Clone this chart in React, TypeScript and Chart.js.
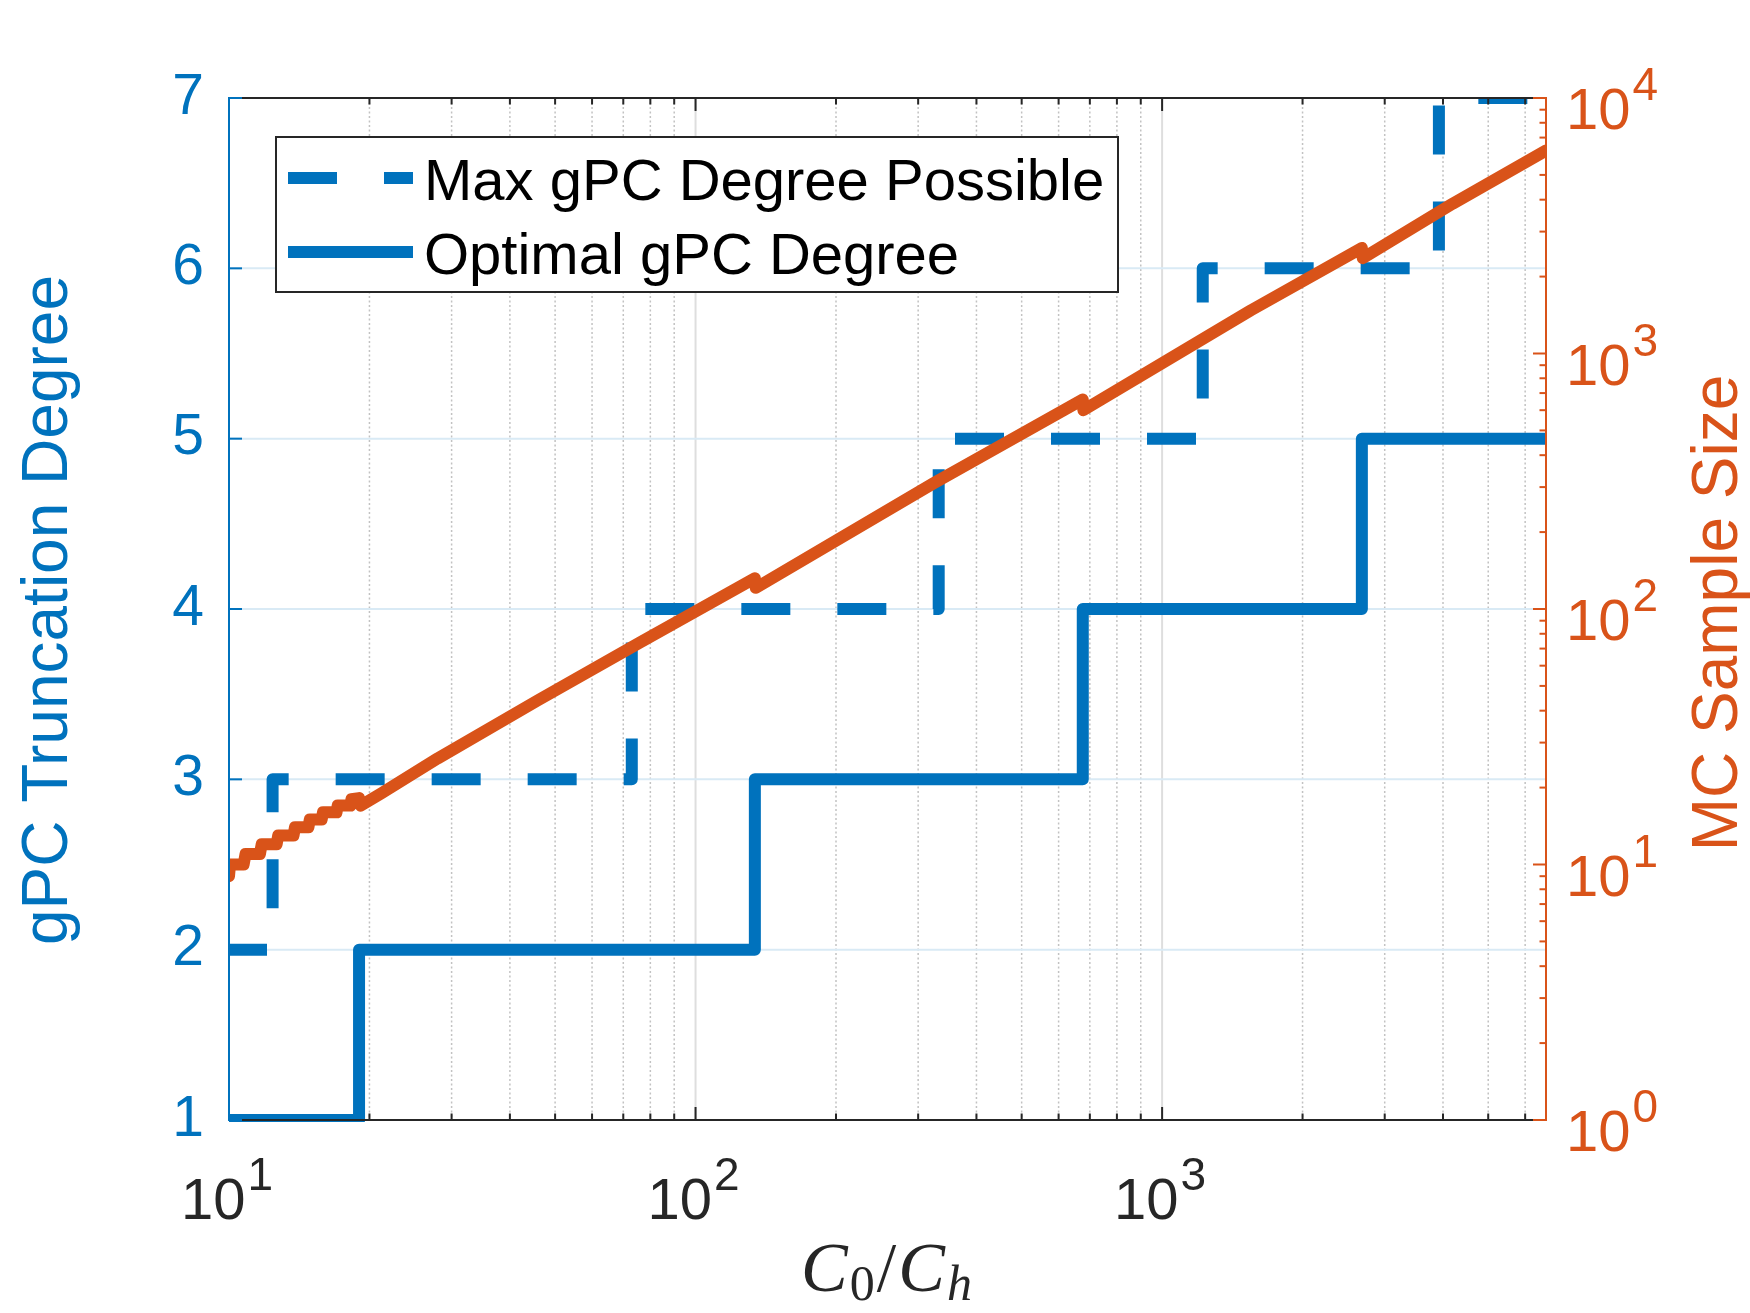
import { useEffect, useRef } from "react"
import { Chart, registerables, type Plugin } from "chart.js"

Chart.register(...registerables)

const BLUE = "#0072BD"
const ORANGE = "#D95319"
const INK = "#262626"
const SANS = '"Liberation Sans", Arial, Helvetica, sans-serif'
const SERIF = '"Liberation Serif", "Times New Roman", serif'

// x axis is C0/Ch (log), left axis gPC degree, right axis MC sample size (log)
const ratioMin = 10
const ratioMax = 6650

// C0/Ch where each stair starts
const maxDegreeRatio = [10, 12.4, 73, 332, 1222, 3920, 6650]
const maxDegree = [2, 3, 4, 5, 6, 7, 7]
const optDegreeRatio = [10, 19, 134, 676, 2680, 6650]
const optDegree = [1, 2, 3, 4, 5, 5]

// MC sample size
const mcRatio = [
  10, 10.05, 10.75, 10.85, 11.65, 11.75, 12.65, 12.75, 13.75, 13.85, 14.8, 14.9,
  15.8, 15.9, 17.0, 17.1, 18.2, 18.3, 19.0, 19.15, 21.2, 28, 46, 76, 134, 134.6,
  323, 676, 678, 1549, 2680, 2692, 4195, 6650,
]
const mcSize = [
  9, 10, 10, 11, 11, 12, 12, 13, 13, 14, 14, 15,
  15, 16, 16, 17, 17, 18, 18.2, 17, 19, 26, 44, 74, 132, 121,
  310, 660, 600, 1475, 2590, 2360, 3858, 6230,
]

const degreeMin = 1
const degreeMax = 7
const sampleMin = 1
const sampleMax = 10000

const ratioDecades = [10, 100, 1000]
const ratioExponents = ["1", "2", "3"]
const sampleDecades = [1, 10, 100, 1000, 10000]
const sampleExponents = ["0", "1", "2", "3", "4"]
const minorSteps = [2, 3, 4, 5, 6, 7, 8, 9]

const line = (ctx: CanvasRenderingContext2D, x1: number, y1: number, x2: number, y2: number) => {
  ctx.beginPath()
  ctx.moveTo(x1, y1)
  ctx.lineTo(x2, y2)
  ctx.stroke()
}

// "10" with a raised exponent, like MATLAB's TeX tick labels
const powerLabel = (
  ctx: CanvasRenderingContext2D,
  exp: string,
  x: number,
  y: number,
  centered: boolean,
  color: string
) => {
  ctx.fillStyle = color
  ctx.textAlign = "left"
  ctx.textBaseline = "alphabetic"
  ctx.font = `58px ${SANS}`
  const w1 = ctx.measureText("10").width
  ctx.font = `46px ${SANS}`
  const w2 = ctx.measureText(exp).width
  const start = centered ? x - (w1 + 2 + w2) / 2 : x
  ctx.font = `58px ${SANS}`
  ctx.fillText("10", start, y)
  ctx.font = `46px ${SANS}`
  ctx.fillText(exp, start + w1 + 2, y - 29)
}

const matlabFrame: Plugin<"line"> = {
  id: "matlabFrame",
  beforeDatasetsDraw(chart) {
    const { ctx, chartArea: a } = chart
    const x = chart.scales.x
    const y = chart.scales.y
    ctx.save()
    // minor grid (dotted)
    ctx.lineWidth = 1.5
    ctx.strokeStyle = "#c2c2c2"
    ctx.setLineDash([2, 2.5])
    for (const d of ratioDecades) {
      for (const m of minorSteps) {
        const v = d * m
        if (v >= x.max) continue
        const px = x.getPixelForValue(v)
        line(ctx, px, a.top, px, a.bottom)
      }
    }
    ctx.setLineDash([])
    ctx.lineWidth = 2
    ctx.strokeStyle = "#dedede"
    for (const d of ratioDecades) {
      if (d <= x.min || d >= x.max) continue
      const px = x.getPixelForValue(d)
      line(ctx, px, a.top, px, a.bottom)
    }
    ctx.strokeStyle = "#d9eaf5"
    for (const t of y.ticks) {
      if (t.value <= y.min || t.value >= y.max) continue
      const py = y.getPixelForValue(t.value)
      line(ctx, a.left, py, a.right, py)
    }
    ctx.restore()
  },
  afterDatasetsDraw(chart) {
    const { ctx, chartArea: a } = chart
    const x = chart.scales.x
    const y = chart.scales.y
    const y2 = chart.scales.y2
    const major = 13
    const minor = 6.5
    ctx.save()
    ctx.lineWidth = 2

    // bottom and top axes with inward ticks
    ctx.strokeStyle = INK
    line(ctx, a.left, a.bottom, a.right, a.bottom)
    line(ctx, a.left, a.top, a.right, a.top)
    for (const d of ratioDecades) {
      const px = x.getPixelForValue(d)
      line(ctx, px, a.bottom, px, a.bottom - major)
      line(ctx, px, a.top, px, a.top + major)
      for (const m of minorSteps) {
        const v = d * m
        if (v >= x.max) continue
        const pm = x.getPixelForValue(v)
        line(ctx, pm, a.bottom, pm, a.bottom - minor)
        line(ctx, pm, a.top, pm, a.top + minor)
      }
    }

    // left axis
    ctx.strokeStyle = BLUE
    line(ctx, a.left, a.top - 1, a.left, a.bottom + 1)
    for (const t of y.ticks) {
      const py = y.getPixelForValue(t.value)
      line(ctx, a.left, py, a.left + major, py)
    }

    // right axis
    ctx.strokeStyle = ORANGE
    line(ctx, a.right, a.top - 1, a.right, a.bottom + 1)
    sampleDecades.forEach((d) => {
      const py = y2.getPixelForValue(d)
      line(ctx, a.right, py, a.right - major, py)
      if (d >= sampleMax) return
      for (const m of minorSteps) {
        const pm = y2.getPixelForValue(d * m)
        line(ctx, a.right, pm, a.right - minor, pm)
      }
    })

    // tick labels with exponents
    ratioDecades.forEach((d, i) => {
      powerLabel(ctx, ratioExponents[i], x.getPixelForValue(d) - 2, a.bottom + 99, true, INK)
    })
    sampleDecades.forEach((d, i) => {
      powerLabel(ctx, sampleExponents[i], a.right + 20, y2.getPixelForValue(d) + 31, false, ORANGE)
    })

    // axis titles
    const midY = (a.top + a.bottom) / 2
    ctx.textAlign = "center"
    ctx.textBaseline = "alphabetic"
    ctx.font = `64px ${SANS}`
    ctx.save()
    ctx.translate(67, midY + 1)
    ctx.rotate(-Math.PI / 2)
    ctx.fillStyle = BLUE
    ctx.fillText("gPC Truncation Degree", 0, 0)
    ctx.restore()
    ctx.save()
    ctx.translate(1737, midY + 4)
    ctx.rotate(-Math.PI / 2)
    ctx.fillStyle = ORANGE
    ctx.fillText("MC Sample Size", 0, 0)
    ctx.restore()

    // x title: C_0 / C_h
    const parts = [
      { t: "C", font: `italic 70px ${SERIF}`, dy: 0 },
      { t: "0", font: `50px ${SERIF}`, dy: 9 },
      { t: "/", font: `70px ${SERIF}`, dy: 0 },
      { t: "C", font: `italic 70px ${SERIF}`, dy: 0 },
      { t: "h", font: `italic 50px ${SERIF}`, dy: 9 },
    ]
    ctx.textAlign = "left"
    const widths = parts.map((p) => {
      ctx.font = p.font
      return ctx.measureText(p.t).width + 2
    })
    const total = widths.reduce((s, w) => s + w, 0)
    let cx = (a.left + a.right) / 2 - total / 2
    ctx.fillStyle = INK
    parts.forEach((p, i) => {
      ctx.font = p.font
      ctx.fillText(p.t, cx, a.bottom + 171 + p.dy)
      cx += widths[i]
    })

    // legend inside the axes
    const lx = a.left + 47
    const ly = a.top + 39
    const lw = 842
    const lh = 155
    ctx.fillStyle = "#ffffff"
    ctx.fillRect(lx, ly, lw, lh)
    ctx.strokeStyle = INK
    ctx.lineWidth = 2
    ctx.strokeRect(lx, ly, lw, lh)
    const entries = chart.data.datasets.filter((ds: any) => ds.yAxisID === "y")
    entries.forEach((ds: any, i) => {
      const rowY = ly + 41 + i * 74
      ctx.save()
      ctx.strokeStyle = ds.borderColor
      ctx.lineWidth = 12
      ctx.setLineDash(ds.borderDash || [])
      line(ctx, lx + 12, rowY, lx + 137, rowY)
      ctx.restore()
      ctx.fillStyle = "#000000"
      ctx.font = `58px ${SANS}`
      ctx.textAlign = "left"
      ctx.textBaseline = "alphabetic"
      ctx.fillText(ds.label, lx + 148, rowY + 22)
    })
    ctx.restore()
  },
}

export default function App() {
  const canvasRef = useRef<HTMLCanvasElement>(null)
  const chartRef = useRef<Chart | null>(null)

  useEffect(() => {
    if (!canvasRef.current) return
    if (chartRef.current) chartRef.current.destroy()

    const areaClip = { left: 0, top: 0, right: 0, bottom: 2 }

    chartRef.current = new Chart(canvasRef.current, {
      type: "line",
      data: {
        datasets: [
          {
            label: "MC Sample Size",
            data: mcRatio.map((r, i) => ({ x: r, y: mcSize[i] })),
            yAxisID: "y2",
            borderColor: ORANGE,
            borderWidth: 12,
            borderJoinStyle: "round",
            borderCapStyle: "round",
            pointRadius: 0,
            tension: 0,
            clip: areaClip,
            order: 0,
          },
          {
            label: "Max gPC Degree Possible",
            data: maxDegreeRatio.map((r, i) => ({ x: r, y: maxDegree[i] })),
            yAxisID: "y",
            stepped: "before",
            borderColor: BLUE,
            borderWidth: 12,
            borderDash: [49, 47],
            borderDashOffset: 11,
            borderJoinStyle: "round",
            pointRadius: 0,
            clip: areaClip,
            order: 1,
          },
          {
            label: "Optimal gPC Degree",
            data: optDegreeRatio.map((r, i) => ({ x: r, y: optDegree[i] })),
            yAxisID: "y",
            stepped: "before",
            borderColor: BLUE,
            borderWidth: 12,
            borderJoinStyle: "round",
            pointRadius: 0,
            clip: areaClip,
            order: 2,
          },
        ],
      },
      options: {
        animation: false,
        responsive: true,
        maintainAspectRatio: false,
        events: [],
        layout: { padding: { top: 98, left: 0, right: 0, bottom: 0 } },
        plugins: {
          legend: { display: false },
          tooltip: { enabled: false },
        },
        scales: {
          x: {
            type: "logarithmic",
            min: ratioMin,
            max: ratioMax,
            grid: { display: false, drawTicks: false },
            border: { display: false },
            ticks: { display: false },
            afterFit: (s) => {
              s.height = 193
            },
          },
          y: {
            type: "linear",
            position: "left",
            min: degreeMin,
            max: degreeMax,
            grid: { display: false, drawTicks: false },
            border: { display: false },
            ticks: {
              stepSize: 1,
              color: BLUE,
              padding: 25,
              font: { family: SANS, size: 57 },
            },
            afterFit: (s) => {
              s.width = 229
            },
          },
          y2: {
            type: "logarithmic",
            position: "right",
            min: sampleMin,
            max: sampleMax,
            grid: { display: false, drawTicks: false },
            border: { display: false },
            ticks: { display: false },
            afterFit: (s) => {
              s.width = 204
            },
          },
        },
      },
      plugins: [matlabFrame],
    })

    return () => {
      if (chartRef.current) {
        chartRef.current.destroy()
        chartRef.current = null
      }
    }
  }, [])

  return (
    <div style={{ position: "fixed", left: 0, top: 0, width: 1750, height: 1313, background: "#ffffff" }}>
      <canvas ref={canvasRef}></canvas>
    </div>
  )
}
